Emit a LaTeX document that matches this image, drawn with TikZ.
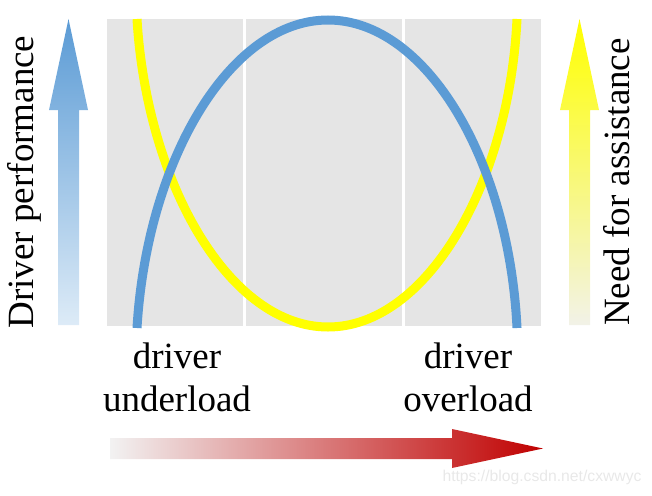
\documentclass[tikz,border=0pt]{standalone}
\usepackage{fontspec}
\setmainfont{Liberation Serif}
\newfontfamily\wmfont{Liberation Sans}
\usetikzlibrary{positioning}
\definecolor{perfblue}{RGB}{91,155,213}
\definecolor{lightblue}{RGB}{221,235,247}
\definecolor{needyellow}{RGB}{255,255,0}
\definecolor{paleyellow}{RGB}{242,242,232}
\definecolor{loadred}{RGB}{192,0,0}
\definecolor{palegray}{RGB}{242,242,242}
\definecolor{panelgray}{RGB}{229,229,229}

\begin{document}
\begin{tikzpicture}[x=1pt, y=-1pt,
    curve/.style={line width=9pt, line cap=butt},
    biglabel/.style={font=\fontsize{37}{43}\selectfont, align=center, inner sep=0pt}]
  \useasboundingbox (0,0) rectangle (652,495);
  % panel with two white dividers
  \fill[panelgray] (107,19) rectangle (541,326);
  \draw[white, line width=3pt] (244,19) -- (244,326);
  \draw[white, line width=3pt] (403,19) -- (403,326);
  % need for assistance curve
  \draw[curve, needyellow] (137,19) .. controls (147,185) and (230,327) .. (328,327)
    .. controls (426,327) and (509,185) .. (517,19);
  % driver performance curve
  \draw[curve, perfblue] (137,328) .. controls (147,160) and (230,20) .. (328,20)
    .. controls (426,20) and (509,160) .. (517,328);
  % vertical arrows
  \shade[top color=perfblue, bottom color=lightblue]
    (58,325) -- (58,110) -- (49,110) -- (68.5,19) -- (88,110) -- (79,110) -- (79,325) -- cycle;
  \shade[top color=needyellow, bottom color=paleyellow]
    (569,325) -- (569,110) -- (560,110) -- (579.5,19) -- (599,110) -- (590,110) -- (590,325) -- cycle;
  % horizontal arrow
  \shade[left color=palegray, right color=loadred]
    (110,438) -- (452,438) -- (452,429) -- (543,448.5) -- (452,468) -- (452,459) -- (110,459) -- cycle;
  % labels
  \node[biglabel, rotate=90] (perf) at (24,182) {Driver performance};
  \node[biglabel, rotate=90] (need) at (617,182) {Need for assistance};
  \node[biglabel] (under) at (177,377) {driver\\underload};
  \node[biglabel] (over) at (468,377) {driver\\overload};
  \node[font=\wmfont\fontsize{15.7}{18}\selectfont, text=black!9, inner sep=0pt] (mark) at (542,477) {https://blog.csdn.net/cxwwyc};
\end{tikzpicture}
\end{document}
